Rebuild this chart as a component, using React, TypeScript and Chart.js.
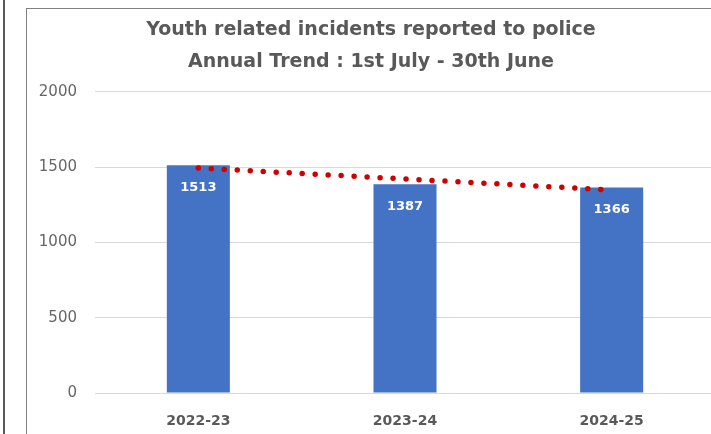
import React, { useEffect, useRef } from "react";
import { Chart, registerables } from "chart.js";

Chart.register(...registerables);

const categories = ["2022-23", "2023-24", "2024-25"];
const incidents = [1513, 1387, 1366];
const trendValues = [1495, 1422, 1349];
const yTicks = [0, 500, 1000, 1500, 2000];
const titleLines = ["Youth related incidents reported to police", "Annual Trend : 1st July - 30th June"];

const FONT = "'DejaVu Sans', sans-serif";

const barLabelPlugin = {
  id: "barLabels",
  afterDatasetsDraw(chart: any) {
    const meta = chart.getDatasetMeta(0);
    const ctx = chart.ctx;
    ctx.save();
    ctx.fillStyle = "#ffffff";
    ctx.font = `bold 13px ${FONT}`;
    ctx.textAlign = "center";
    ctx.textBaseline = "middle";
    meta.data.forEach((bar: any, i: number) => {
      ctx.fillText(String(incidents[i]), bar.x, bar.y + 22);
    });
    ctx.restore();
  },
};

export default function App() {
  const ref = useRef<HTMLCanvasElement>(null);
  useEffect(() => {
    if (!ref.current) return;
    const chart = new Chart(ref.current, {
      type: "bar",
      data: {
        labels: categories,
        datasets: [
          {
            type: "bar",
            data: incidents,
            backgroundColor: "#4472C4",
            barPercentage: 0.305,
            categoryPercentage: 1,
            order: 1,
          } as any,
          {
            type: "line",
            data: trendValues,
            borderColor: "#D00000",
            borderWidth: 5.5,
            borderDash: [0, 13],
            borderCapStyle: "round",
            pointRadius: 0,
            tension: 0,
            fill: false,
            order: 0,
          } as any,
        ],
      },
      options: {
        animation: false,
        responsive: false,
        layout: { padding: 0 },
        plugins: {
          legend: { display: false },
          tooltip: { enabled: false },
          title: {
            display: true,
            text: titleLines,
            color: "#595959",
            font: { family: FONT, size: 19, weight: "bold", lineHeight: 1.684 } as any,
            padding: { top: 5, bottom: 14 },
          },
        },
        scales: {
          x: {
            grid: { display: false, drawTicks: false },
            border: { display: false },
            ticks: {
              color: "#595959",
              font: { family: FONT, size: 14, weight: "bold" },
              padding: 20,
            },
            afterFit(scale: any) {
              scale.height = 41;
            },
          },
          y: {
            min: 0,
            max: 2000,
            afterBuildTicks(scale: any) {
              scale.ticks = yTicks.map((v) => ({ value: v }));
            },
            grid: { color: "#D9D9D9", lineWidth: 1, drawTicks: false },
            border: { display: false },
            ticks: {
              color: "#666666",
              font: { family: FONT, size: 15 },
              padding: 18,
              callback: (v: any) => String(v),
            },
            afterFit(scale: any) {
              scale.width = 68;
            },
          },
        },
      },
      plugins: [barLabelPlugin],
    });
    return () => chart.destroy();
  }, []);

  return (
    <div
      style={{
        position: "absolute",
        left: 0,
        top: 0,
        width: 711,
        height: 434,
        overflow: "hidden",
        background: "#ffffff",
      }}
    >
      <div style={{ position: "absolute", left: 3, top: 0, width: 2, height: 434, background: "#5a5a5a" }} />
      <div
        style={{
          position: "absolute",
          left: 26,
          top: 8,
          width: 760,
          height: 500,
          borderLeft: "1.5px solid #7f7f7f",
          borderTop: "1.5px solid #7f7f7f",
        }}
      />
      <canvas
        ref={ref}
        width={688}
        height={425}
        style={{ position: "absolute", left: 27, top: 9, width: 688, height: 425 }}
      />
    </div>
  );
}
